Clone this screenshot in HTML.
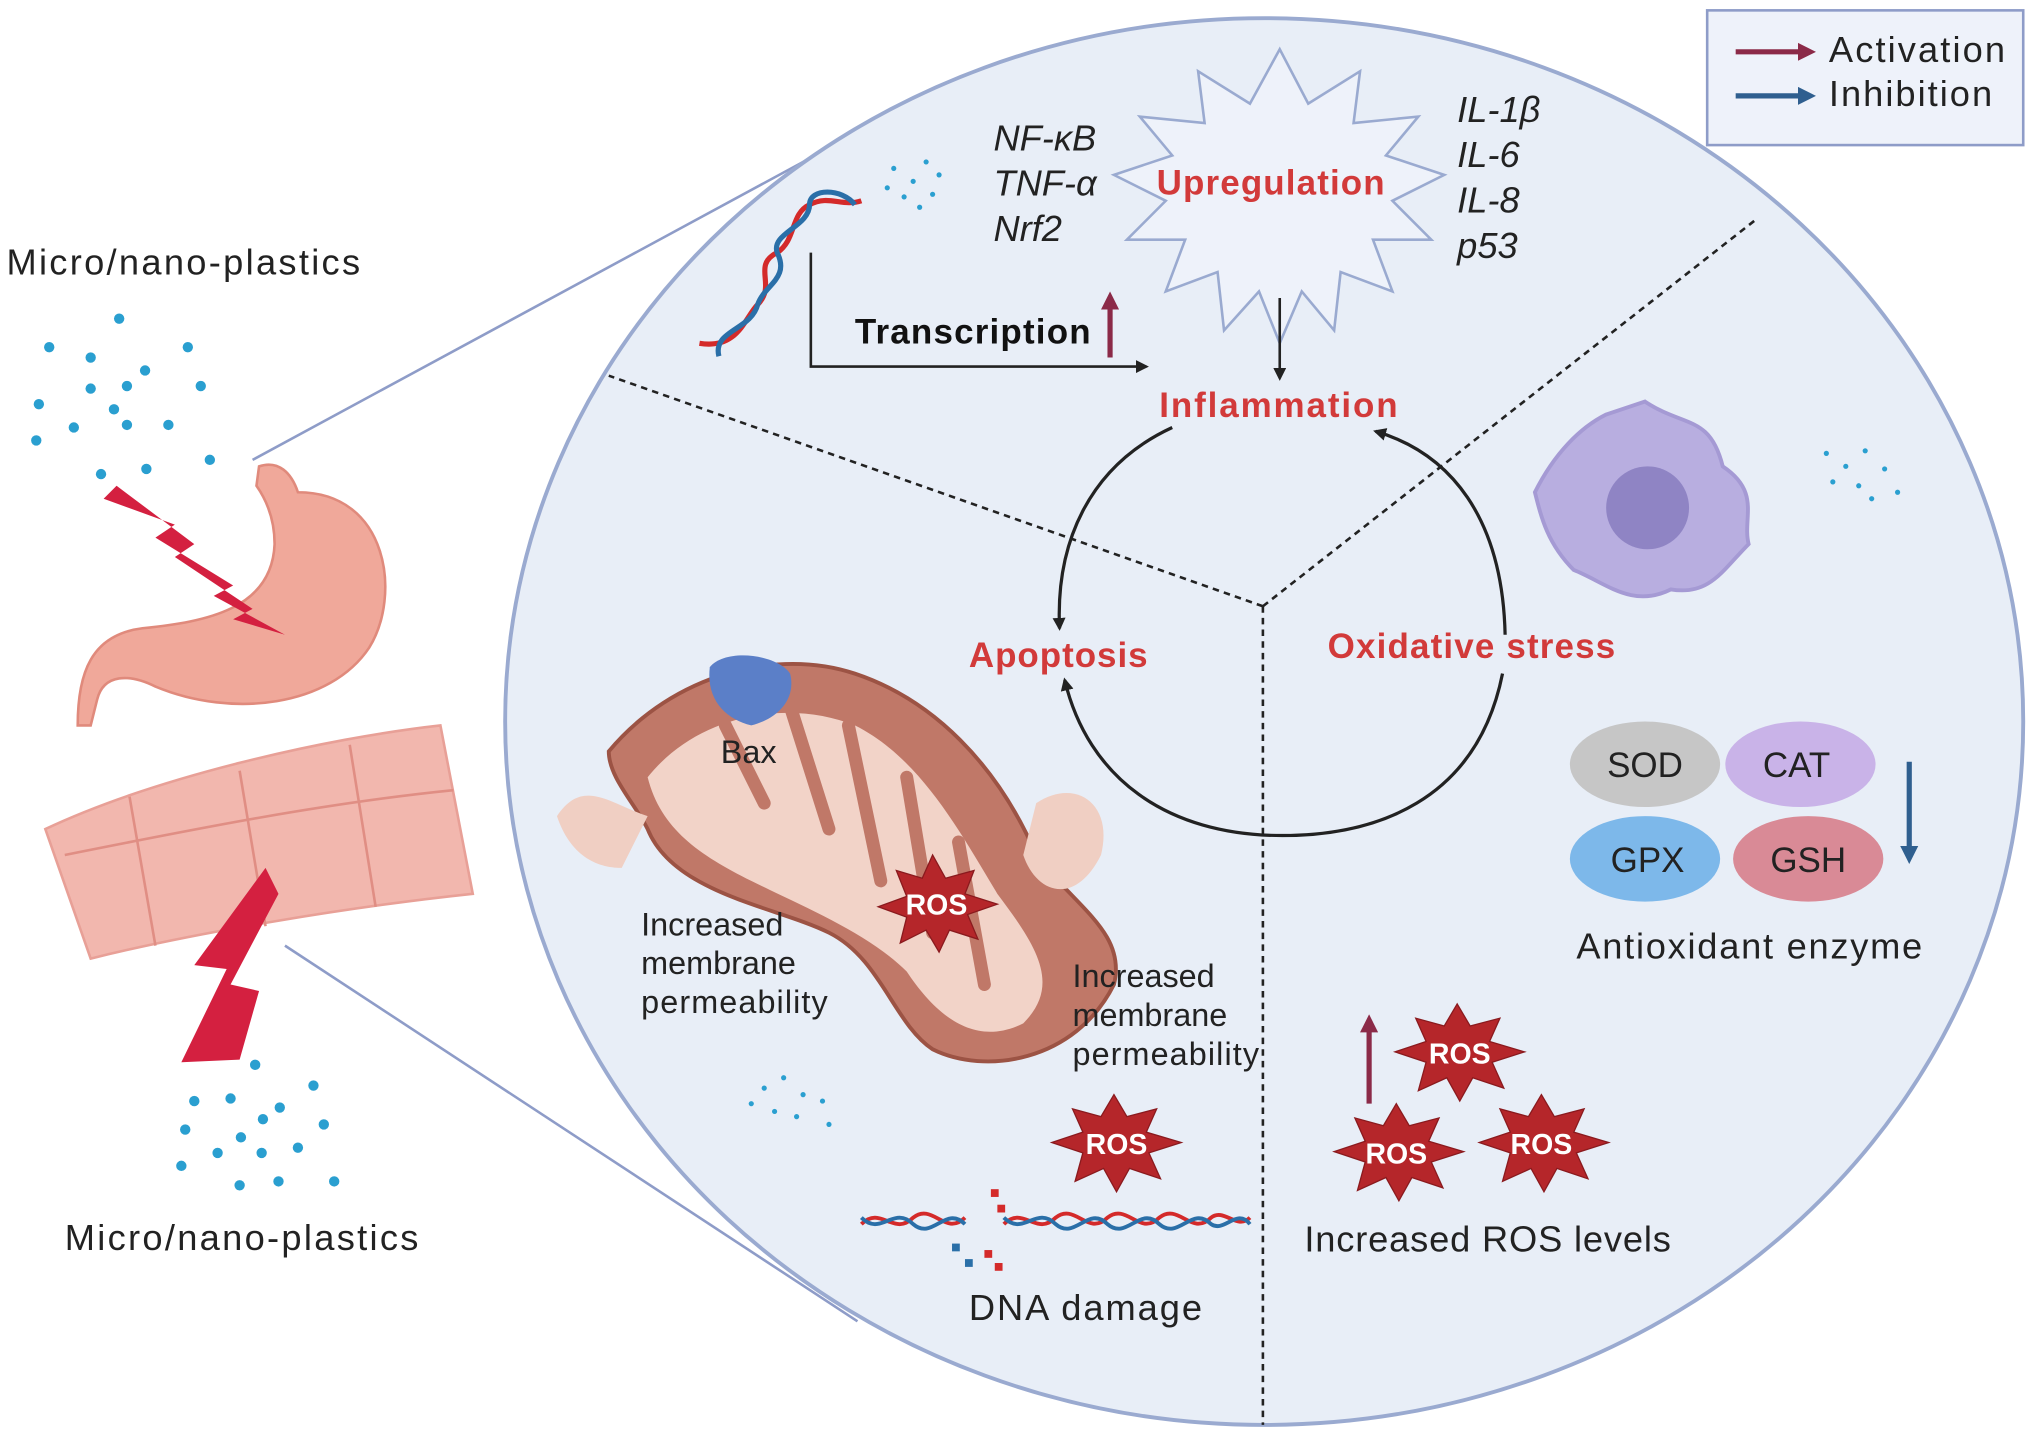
<!DOCTYPE html>
<html><head><meta charset="utf-8"><style>
html,body{margin:0;padding:0;background:#fff}
svg{display:block}
text{font-family:"Liberation Sans",sans-serif}
</style></head><body>
<svg width="2031" height="1434" viewBox="0 0 1568 1107" preserveAspectRatio="none" xmlns="http://www.w3.org/2000/svg">
<defs>
<marker id="ab" markerWidth="10" markerHeight="10" refX="8" refY="5" orient="auto" markerUnits="userSpaceOnUse"><path d="M0,0 L10,5 L0,10 z" fill="#222"/></marker>
<marker id="ar" markerWidth="14" markerHeight="14" refX="7" refY="7" orient="auto" markerUnits="userSpaceOnUse"><path d="M0,0 L14,7 L0,14 z" fill="#8b2a48"/></marker>
<marker id="abl" markerWidth="14" markerHeight="14" refX="7" refY="7" orient="auto" markerUnits="userSpaceOnUse"><path d="M0,0 L14,7 L0,14 z" fill="#2f5f8f"/></marker>
</defs>
<rect width="1568" height="1107" fill="#fff"/>
<line x1="195" y1="355" x2="718" y2="72" stroke="#8e9cc8" stroke-width="2"/>
<line x1="220" y1="730" x2="662" y2="1020" stroke="#8e9cc8" stroke-width="2"/>
<ellipse cx="976" cy="557" rx="586" ry="543" fill="#e8eef7" stroke="#9aaad0" stroke-width="3"/>
<g stroke="#222" stroke-width="2" stroke-dasharray="5,4" fill="none">
<line x1="975" y1="468" x2="470" y2="290"/>
<line x1="975" y1="468" x2="1355" y2="170"/>
<line x1="975" y1="468" x2="975" y2="1100"/>
</g>
<rect x="1318" y="8" width="244" height="104" fill="#eef2fa" stroke="#8e9cc8" stroke-width="2"/>
<line x1="1340" y1="40" x2="1395" y2="40" stroke="#8b2a48" stroke-width="4" marker-end="url(#ar)"/>
<line x1="1340" y1="74" x2="1395" y2="74" stroke="#2f5f8f" stroke-width="4" marker-end="url(#abl)"/>
<text x="1412" y="48" font-size="28" fill="#222" textLength="136">Activation</text>
<text x="1412" y="82" font-size="28" fill="#222" textLength="126">Inhibition</text>
<text x="5" y="212" font-size="28" fill="#222" textLength="273">Micro/nano-plastics</text>
<text x="50" y="965" font-size="28" fill="#222" textLength="273">Micro/nano-plastics</text>
<g fill="#2a9fd0">
<circle cx="92" cy="246" r="4"/><circle cx="38" cy="268" r="4"/><circle cx="70" cy="276" r="4"/><circle cx="145" cy="268" r="4"/><circle cx="112" cy="286" r="4"/><circle cx="70" cy="300" r="4"/><circle cx="98" cy="298" r="4"/><circle cx="155" cy="298" r="4"/><circle cx="30" cy="312" r="4"/><circle cx="88" cy="316" r="4"/><circle cx="57" cy="330" r="4"/><circle cx="98" cy="328" r="4"/><circle cx="130" cy="328" r="4"/><circle cx="28" cy="340" r="4"/><circle cx="78" cy="366" r="4"/><circle cx="113" cy="362" r="4"/><circle cx="162" cy="355" r="4"/>
<circle cx="197" cy="822" r="4"/><circle cx="150" cy="850" r="4"/><circle cx="178" cy="848" r="4"/><circle cx="242" cy="838" r="4"/><circle cx="143" cy="872" r="4"/><circle cx="203" cy="864" r="4"/><circle cx="186" cy="878" r="4"/><circle cx="216" cy="855" r="4"/><circle cx="250" cy="868" r="4"/><circle cx="168" cy="890" r="4"/><circle cx="202" cy="890" r="4"/><circle cx="230" cy="886" r="4"/><circle cx="140" cy="900" r="4"/><circle cx="185" cy="915" r="4"/><circle cx="215" cy="912" r="4"/><circle cx="258" cy="912" r="4"/>
</g>
<path d="M200,360 C215,355 225,365 230,380 C300,380 310,460 285,500 C255,545 180,555 120,530 C100,520 80,520 75,540 L70,560 L60,560 C60,520 70,490 110,485 C160,480 210,470 212,420 C212,400 205,385 198,375 z" fill="#f0a89a" stroke="#e08a7c" stroke-width="2"/>
<path d="M35,640 C120,600 250,570 340,560 L365,690 C270,700 150,720 70,740 z" fill="#f2b7ae" stroke="#e8a097" stroke-width="2"/>
<g stroke="#e08e84" stroke-width="2" fill="none"><path d="M100,615 L120,730"/><path d="M185,595 L205,715"/><path d="M270,575 L290,700"/><path d="M50,660 C150,640 250,620 350,610"/></g>
<path d="M90,375 L150,420 L135,430 L195,470 L180,478 L220,490 L165,460 L180,452 L120,415 L135,405 L80,385 z" fill="#d42040"/>
<path d="M205,670 L150,745 L175,748 L140,820 L185,818 L200,765 L178,760 L215,690 z" fill="#d42040"/>
<!-- DNA top double helix -->
<path d="M540,265 C570,270 575,245 585,235 C600,220 580,205 600,195 C615,185 610,165 625,158 C640,150 650,160 665,155" stroke="#d42a2a" stroke-width="4" fill="none"/>
<path d="M555,275 C550,255 580,255 585,235 C590,220 610,215 600,195 C595,180 625,175 625,158 C625,145 650,145 660,158" stroke="#2a6fa8" stroke-width="4" fill="none"/>
<g fill="#2a9fd0"><circle cx="690" cy="130" r="2"/><circle cx="705" cy="140" r="2"/><circle cx="715" cy="125" r="2"/><circle cx="698" cy="152" r="2"/><circle cx="720" cy="150" r="2"/><circle cx="685" cy="145" r="2"/><circle cx="710" cy="160" r="2"/><circle cx="725" cy="135" r="2"/>
<circle cx="1410" cy="350" r="2"/><circle cx="1425" cy="360" r="2"/><circle cx="1440" cy="348" r="2"/><circle cx="1415" cy="372" r="2"/><circle cx="1435" cy="375" r="2"/><circle cx="1455" cy="362" r="2"/><circle cx="1445" cy="385" r="2"/><circle cx="1465" cy="380" r="2"/>
<circle cx="590" cy="840" r="2"/><circle cx="605" cy="832" r="2"/><circle cx="620" cy="845" r="2"/><circle cx="598" cy="858" r="2"/><circle cx="615" cy="862" r="2"/><circle cx="635" cy="850" r="2"/><circle cx="580" cy="852" r="2"/><circle cx="640" cy="868" r="2"/></g>
<path d="M626,195 L626,283 L885,283" stroke="#222" stroke-width="2" fill="none" marker-end="url(#ab)"/>
<text x="660" y="265" font-size="27" font-weight="bold" fill="#111" textLength="182">Transcription</text>
<line x1="857" y1="276" x2="857" y2="232" stroke="#8b2a48" stroke-width="4" marker-end="url(#ar)"/>
<polygon points="988,38 1010,80 1050,55 1045,95 1095,90 1070,120 1115,135 1075,155 1105,185 1060,185 1075,225 1035,210 1030,255 1005,225 988,265 972,225 945,255 940,210 900,225 915,185 870,185 900,155 860,135 905,120 880,90 930,95 925,55 965,80" fill="#eef2fa" stroke="#9aaad0" stroke-width="2"/>
<text x="893" y="150" font-size="27" font-weight="bold" fill="#d23a3a" textLength="176">Upregulation</text>
<g font-size="28" font-style="italic" fill="#222">
<text x="767" y="116">NF-κB</text><text x="767" y="151">TNF-α</text><text x="767" y="186">Nrf2</text>
<text x="1125" y="94">IL-1β</text><text x="1125" y="129">IL-6</text><text x="1125" y="164">IL-8</text><text x="1125" y="199">p53</text>
</g>
<line x1="988" y1="230" x2="988" y2="292" stroke="#222" stroke-width="2" marker-end="url(#ab)"/>
<g stroke="#222" stroke-width="2.5" fill="none">
<path d="M905,330 C840,360 815,420 818,485" marker-end="url(#ab)"/>
<path d="M1162,490 C1160,400 1120,350 1062,333" marker-end="url(#ab)"/>
<path d="M1160,520 C1140,620 1060,645 990,645 C900,645 840,600 822,525" marker-end="url(#ab)"/>
</g>
<g font-size="27" font-weight="bold" fill="#d23a3a">
<text x="895" y="322" textLength="184">Inflammation</text>
<text x="748" y="515" textLength="138">Apoptosis</text>
<text x="1025" y="508" textLength="222">Oxidative stress</text>
</g>
<path d="M1270,310 C1300,330 1320,320 1330,360 C1360,380 1345,400 1350,420 C1330,440 1320,460 1290,455 C1260,470 1240,450 1215,440 C1195,420 1190,400 1185,380 C1200,350 1220,330 1240,320 z" fill="#b8aee0" stroke="#a59ad4" stroke-width="3"/>
<circle cx="1272" cy="392" r="32" fill="#8f84c4"/>
<ellipse cx="1270" cy="590" rx="58" ry="33" fill="#c6c6c6"/><text x="1270" y="600" font-size="27" text-anchor="middle" fill="#222">SOD</text>
<ellipse cx="1390" cy="590" rx="58" ry="33" fill="#c9b3e8"/><text x="1387" y="600" font-size="27" text-anchor="middle" fill="#222">CAT</text>
<ellipse cx="1270" cy="663" rx="58" ry="33" fill="#7db8ea"/><text x="1272" y="673" font-size="27" text-anchor="middle" fill="#222">GPX</text>
<ellipse cx="1396" cy="663" rx="58" ry="33" fill="#d98a96"/><text x="1396" y="673" font-size="27" text-anchor="middle" fill="#222">GSH</text>
<line x1="1474" y1="588" x2="1474" y2="660" stroke="#2f5f8f" stroke-width="4" marker-end="url(#abl)"/>
<text x="1217" y="740" font-size="28" fill="#222" textLength="267">Antioxidant enzyme</text>
<path d="M470,580 C520,520 600,500 660,520 C720,540 770,590 800,660 C830,700 870,720 860,760 C830,820 760,830 720,810 C690,790 680,740 640,720 C600,700 520,690 500,640 C490,620 470,600 470,580 z" fill="#c07868" stroke="#9c5344" stroke-width="3"/>
<path d="M500,600 C540,550 610,540 660,560 C710,585 740,640 770,690 C800,730 820,760 790,790 C750,810 720,780 700,750 C670,720 620,700 580,680 C540,660 510,640 500,600 z" fill="#f2d3c8"/>
<g stroke="#c07868" stroke-width="10" fill="none" stroke-linecap="round"><path d="M560,560 L590,620"/><path d="M610,545 L640,640"/><path d="M655,560 L680,680"/><path d="M700,600 L720,720"/><path d="M740,650 L760,760"/></g>
<path d="M430,630 C450,600 470,620 500,630 L480,670 C460,670 440,660 430,630z" fill="#f0cfc3"/>
<path d="M800,620 C830,600 860,620 850,660 C830,700 800,690 790,660z" fill="#f0cfc3"/>
<path d="M548,515 C560,500 600,505 610,520 C615,540 600,555 580,560 C560,555 545,540 548,515z" fill="#5b7fc8"/>
<text x="578" y="589" font-size="25" text-anchor="middle" fill="#222">Bax</text>
<g fill="#b5262a" stroke="#8a1a1e" stroke-width="1">
<polygon points="720,660 730,678 752,672 745,690 770,698 747,706 755,725 733,718 725,735 715,718 695,728 700,708 678,700 700,692 692,672 712,678"/>
<polygon points="860,845 870,862 893,856 885,874 912,882 887,890 896,910 872,902 862,920 852,902 830,912 836,890 812,882 836,874 828,856 850,862"/>
<polygon points="1125,775 1135,792 1158,786 1150,804 1177,812 1152,820 1161,840 1137,832 1127,850 1117,832 1095,842 1101,820 1077,812 1101,804 1093,786 1115,792"/>
<polygon points="1078,852 1088,869 1111,863 1103,881 1130,889 1105,897 1114,917 1090,909 1080,927 1070,909 1048,919 1054,897 1030,889 1054,881 1046,863 1068,869"/>
<polygon points="1190,845 1200,862 1223,856 1215,874 1242,882 1217,890 1226,910 1202,902 1192,920 1182,902 1160,912 1166,890 1142,882 1166,874 1158,856 1180,862"/>
</g>
<g font-size="22" font-weight="bold" fill="#fff" text-anchor="middle">
<text x="723" y="706">ROS</text><text x="862" y="891">ROS</text><text x="1127" y="821">ROS</text><text x="1078" y="898">ROS</text><text x="1190" y="891">ROS</text>
</g>
<line x1="1057" y1="852" x2="1057" y2="790" stroke="#8b2a48" stroke-width="4" marker-end="url(#ar)"/>
<g font-size="25" fill="#222">
<text x="495" y="722">Increased</text><text x="495" y="752">membrane</text><text x="495" y="782" textLength="144">permeability</text>
<text x="828" y="762">Increased</text><text x="828" y="792">membrane</text><text x="828" y="822" textLength="144">permeability</text>
</g>
<path d="M665,945 C680,930 690,955 705,940 C720,928 730,955 745,940" stroke="#d42a2a" stroke-width="3" fill="none"/>
<path d="M665,940 C680,955 690,930 705,945 C720,958 730,930 745,945" stroke="#2a6fa8" stroke-width="3" fill="none"/>
<path d="M775,945 C790,930 800,955 815,940 C830,928 840,955 855,940 C870,928 880,955 895,940 C910,928 920,955 935,940 C945,932 955,950 965,940" stroke="#d42a2a" stroke-width="3" fill="none"/>
<path d="M775,940 C790,955 800,930 815,945 C830,958 840,930 855,945 C870,958 880,930 895,945 C910,958 920,930 935,945 C945,952 955,932 965,945" stroke="#2a6fa8" stroke-width="3" fill="none"/>
<g fill="#d42a2a"><rect x="765" y="918" width="6" height="6"/><rect x="770" y="930" width="6" height="6"/><rect x="760" y="965" width="6" height="6"/><rect x="768" y="975" width="6" height="6"/></g>
<g fill="#2a6fa8"><rect x="735" y="960" width="6" height="6"/><rect x="745" y="972" width="6" height="6"/></g>
<text x="748" y="1019" font-size="28" fill="#222" textLength="180">DNA damage</text>
<text x="1007" y="966" font-size="28" fill="#222" textLength="283">Increased ROS levels</text>
</svg>
</body></html>
